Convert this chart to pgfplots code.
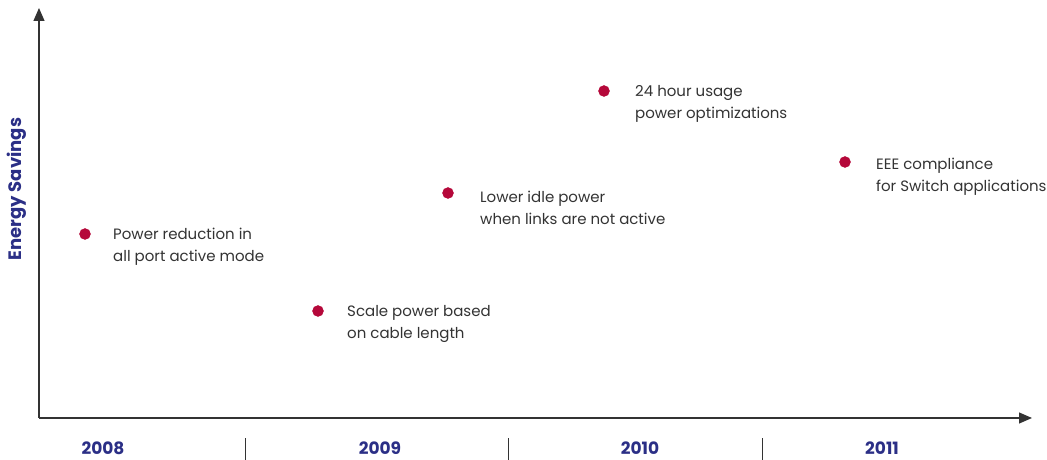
\documentclass[border=0pt]{standalone}
\usepackage{fontspec}
\setmainfont{Poppins}
\usepackage{pgfplots}
\pgfplotsset{compat=1.18}
\usetikzlibrary{arrows.meta}
\definecolor{navy}{HTML}{2B2F86}
\definecolor{dotred}{HTML}{B5083A}
\definecolor{txt}{HTML}{333333}
\definecolor{axl}{HTML}{333333}
\begin{document}
\begin{tikzpicture}
\begin{axis}[
  x=1pt, y=1pt,
  xmin=39, xmax=1032, ymin=42, ymax=452,
  axis lines=left,
  axis line style={axl, line width=1.2pt, -{Triangle[width=11pt,length=13pt]}},
  xtick={103,380,640,882},
  xticklabels={2008,2009,2010,2011},
  xticklabel style={font=\fontsize{17}{19}\selectfont\bfseries, text=navy, yshift=-20pt},
  major tick length=0pt,
  ytick=\empty,
  clip=false,
]
\addplot[only marks, mark=*, mark size=5.5pt, dotred] coordinates {
  (85,226) (318,149) (448,267) (604,369) (845,298)
};
\coordinate (BL) at (axis cs:0,0);
\coordinate (TR) at (axis cs:1047,460);
\node[rotate=90, font=\fontsize{18}{20}\selectfont\bfseries, text=navy] at (axis cs:17,271) {Energy Savings};
\draw[axl, line width=0.8pt] (axis cs:245,0) -- (axis cs:245,22);
\draw[axl, line width=0.8pt] (axis cs:508,0) -- (axis cs:508,22);
\draw[axl, line width=0.8pt] (axis cs:762,0) -- (axis cs:762,22);
\tikzset{ann/.style={anchor=base west, inner sep=0pt, text=txt, font=\fontsize{15}{18}\selectfont}}
\node[ann] at (axis cs:113,220) {Power reduction in};
\node[ann] at (axis cs:113,198) {all port active mode};
\node[ann] at (axis cs:347,143) {Scale power based};
\node[ann] at (axis cs:347,121) {on cable length};
\node[ann] at (axis cs:480,257) {Lower idle power};
\node[ann] at (axis cs:480,235) {when links are not active};
\node[ann] at (axis cs:635,363) {24 hour usage};
\node[ann] at (axis cs:635,341) {power optimizations};
\node[ann] at (axis cs:876,290) {EEE compliance};
\node[ann] at (axis cs:876,268) {for Switch applications};
\end{axis}
\pgfresetboundingbox
\path[use as bounding box] (BL) rectangle (TR);
\end{tikzpicture}
\end{document}
